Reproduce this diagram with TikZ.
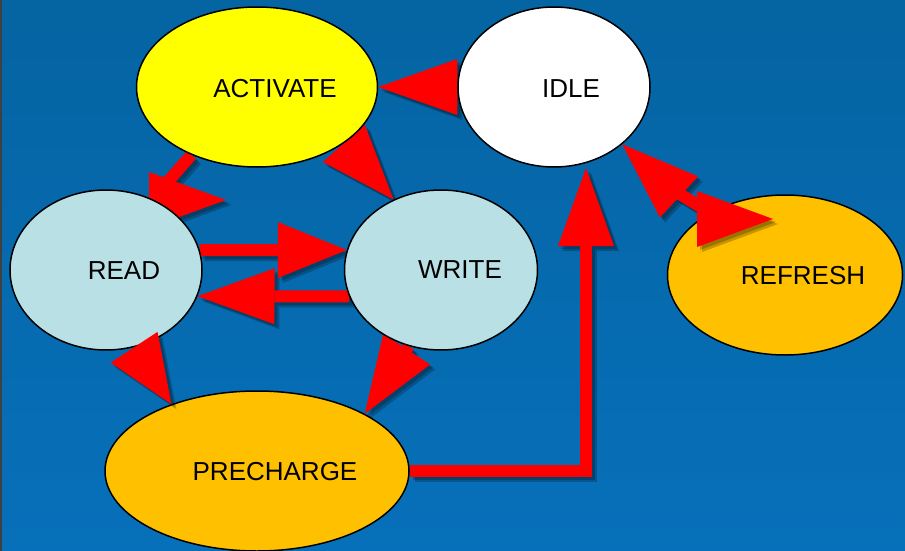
\documentclass[tikz,border=0pt]{standalone}
\usepackage{fontspec}
\setmainfont{Liberation Sans}
\usetikzlibrary{calc,shapes.geometric}

\definecolor{bgtop}{RGB}{5,100,162}
\definecolor{bgbot}{RGB}{7,112,186}
\definecolor{arrowred}{RGB}{255,0,0}
\definecolor{actfill}{RGB}{255,255,0}
\definecolor{rwfill}{RGB}{185,224,228}
\definecolor{orangefill}{RGB}{255,192,0}

\pgfdeclarelayer{bg}
\pgfdeclarelayer{arrows}
\pgfdeclarelayer{top}
\pgfsetlayers{bg,arrows,main,top}

\tikzset{
  state/.style={ellipse, draw=black, line width=1.5pt, inner sep=0pt, minimum height=160pt},
  statetext/.style={font=\fontsize{26}{31}\selectfont, text=black, inner sep=0pt},
  shaft/.style={line width=12pt, draw=#1},
}

% triangular arrow head: #1 base midpoint, #2 tip, #3 colour
\newcommand{\headtri}[3]{%
  \fill[#3] ($(#1)!28pt!90:(#2)$) -- (#2) -- ($(#1)!28pt!-90:(#2)$) -- cycle;}
% straight block arrow: #1 start, #2 tip, #3 head length, #4 colour
\newcommand{\shaftarrow}[4]{%
  \coordinate (hb) at ($(#2)!#3!(#1)$);
  \draw[shaft=#4] (#1) -- (hb);
  \headtri{hb}{#2}{#4}}

% arrows lying beneath the states
\newcommand{\lowerarrows}[1]{%
  \headtri{idle.180}{activate.0}{#1}
  \draw[shaft=#1] (activate.226) -- (s2);
  \headtri{k2}{t2}{#1}
  \headtri{activate.327}{write.124}{#1}
  \shaftarrow{read.12}{write.168}{69pt}{#1}
  \shaftarrow{write.196}{read.344}{77pt}{#1}
  \shaftarrow{write.247}{precharge.28}{77pt}{#1}
  \draw[shaft=#1] (precharge.east) -| (h8);
  \headtri{h8}{t8}{#1}
}
% arrows lying above the states
\newcommand{\upperarrows}[1]{%
  \headtri{read.290}{precharge.142}{#1}
  \draw[shaft=#1] (s9a) -- (s9b);
  \headtri{b1}{idle.320}{#1}
  \headtri{b2}{t9}{#1}
}
% soft drop shadow under a group of arrows
\newcommand{\arrowshadow}[1]{%
  \begin{scope}[transform canvas={shift={(5pt,-5pt)}}, opacity=0.22]
    #1{black}
  \end{scope}
  \begin{scope}[transform canvas={shift={(3pt,-3pt)}}, opacity=0.22]
    #1{black}
  \end{scope}}

\begin{document}
\begin{tikzpicture}[x=1pt, y=-1pt]
  \useasboundingbox (0,0) rectangle (905,551);

  \begin{pgfonlayer}{bg}
    \fill[top color=bgtop, bottom color=bgbot] (0,0) rectangle (905,551);
    \draw[line width=2pt, black!75] (1,0) -- (1,551);
  \end{pgfonlayer}

  % states
  \node[state, fill=actfill, minimum width=241pt] (activate) at (257,87) {};
  \node[state, fill=white, minimum width=192pt] (idle) at (554,87) {};
  \node[state, fill=rwfill, minimum width=192pt] (read) at (106,270) {};
  \node[state, fill=rwfill, minimum width=193pt] (write) at (441,270) {};
  \node[state, fill=orangefill, minimum width=304pt] (precharge) at (257,471) {};
  \node[state, fill=orangefill, minimum width=235pt] (refresh) at (785,275) {};

  \node[statetext] (activate-label) at ([xshift=18pt,yshift=-2pt]activate.center) {ACTIVATE};
  \node[statetext] (idle-label) at ([xshift=17pt,yshift=-2pt]idle.center) {IDLE};
  \node[statetext] (read-label) at ([xshift=18pt,yshift=-1pt]read.center) {READ};
  \node[statetext] (write-label) at ([xshift=19pt]write.center) {WRITE};
  \node[statetext] (precharge-label) at ([xshift=18pt,yshift=-1pt]precharge.center) {PRECHARGE};
  \node[statetext] (refresh-label) at ([xshift=18pt,yshift=-1pt]refresh.center) {REFRESH};

  % free ends and bends of the connectors
  \coordinate (s2) at (156,195);
  \coordinate (k2) at (149,200);
  \coordinate (t2) at (226,200);
  \coordinate (h8) at (586,246);
  \coordinate (t8) at (586,168);
  \coordinate (s9a) at (678,193);
  \coordinate (s9b) at (701,207);
  \coordinate (b1) at (679,197);
  \coordinate (b2) at (697,219);
  \coordinate (t9) at (773,219);

  \begin{pgfonlayer}{arrows}
    \arrowshadow{\lowerarrows}
    \lowerarrows{arrowred}
  \end{pgfonlayer}

  \begin{pgfonlayer}{top}
    \arrowshadow{\upperarrows}
    \upperarrows{arrowred}
  \end{pgfonlayer}
\end{tikzpicture}
\end{document}
